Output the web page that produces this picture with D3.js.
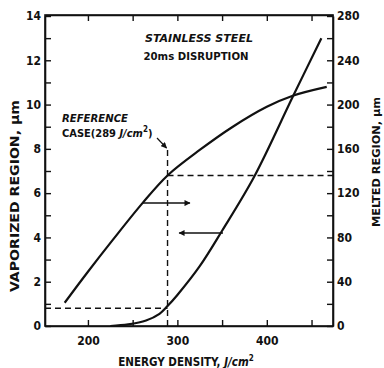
<!DOCTYPE html>
<html>
<head>
<meta charset="utf-8">
<script src="https://cdn.jsdelivr.net/npm/d3@7"></script>
<style>
  body { margin: 0; background: #fff; }
  text { font-family: "DejaVu Sans Condensed", "DejaVu Sans", sans-serif; fill: #111; }
</style>
</head>
<body>
<div class="svg-container"></div>
<script>
// vaporized region (left axis, um)
var energyVap = [174, 200, 228, 261, 289, 325, 362, 400, 429, 467];
var vaporized = [1.05, 2.45, 3.9, 5.55, 6.8, 7.95, 9.0, 9.9, 10.4, 10.8];

// melted region (right axis, um)
var energyMelt = [225, 245, 265, 280, 289, 300, 325, 350, 386, 429, 461];
var melted = [0, 1.5, 5, 11, 18, 28, 54, 86, 135, 207, 260];

var xTicks = [200, 250, 300, 350, 400, 450];
var xLabels = [200, 300, 400];
var leftTicks = d3.range(0, 15, 1);
var leftLabels = [0, 2, 4, 6, 8, 10, 12, 14];
var rightTicks = d3.range(0, 281, 20);
var rightLabels = [0, 40, 80, 120, 160, 200, 240, 280];

var refEnergy = 289, refVap = 6.8, refMelt = 16;

var width = 384, height = 368;
var svg = d3.select('.svg-container').append('svg')
  .attr('width', width)
  .attr('height', height);

var x = d3.scaleLinear().domain([152, 474]).range([45, 333]);
var y = d3.scaleLinear().domain([0, 14]).range([326, 16]);
var y2 = d3.scaleLinear().domain([0, 280]).range([326, 16]);

var ink = '#111';

// frame
svg.append('rect')
  .attr('x', x.range()[0]).attr('y', 15)
  .attr('width', x.range()[1] - x.range()[0])
  .attr('height', 326 - 15)
  .attr('fill', 'none').attr('stroke', ink).attr('stroke-width', 1.6);

// axes with inward ticks
var axBottom = svg.append('g').attr('transform', 'translate(0,326)')
  .call(d3.axisBottom(x).tickValues(xTicks).tickSizeInner(-6).tickSizeOuter(0)
    .tickFormat(function(d) { return xLabels.indexOf(d) >= 0 ? d : ''; }));
var axTop = svg.append('g').attr('transform', 'translate(0,15)')
  .call(d3.axisTop(x).tickValues(xTicks).tickSizeInner(-6).tickSizeOuter(0).tickFormat(''));
var axLeft = svg.append('g').attr('transform', 'translate(45,0)')
  .call(d3.axisLeft(y).tickValues(leftTicks).tickSizeInner(-6).tickSizeOuter(0)
    .tickFormat(function(d) { return leftLabels.indexOf(d) >= 0 ? d : ''; }));
var axRight = svg.append('g').attr('transform', 'translate(333,0)')
  .call(d3.axisRight(y2).tickValues(rightTicks).tickSizeInner(-6).tickSizeOuter(0)
    .tickFormat(function(d) { return rightLabels.indexOf(d) >= 0 ? d : ''; }));

[axBottom, axTop, axLeft, axRight].forEach(function(g) {
  g.select('.domain').attr('stroke', ink).attr('stroke-width', 1.6);
  g.selectAll('.tick line').attr('stroke', ink).attr('stroke-width', 1.4);
  g.selectAll('.tick text').attr('font-size', 12).attr('fill', ink)
    .attr('font-weight', 'bold')
    .attr('font-family', '"DejaVu Sans Condensed", sans-serif');
});
axBottom.selectAll('.tick text').attr('dy', '1.3em');
axLeft.selectAll('.tick text').attr('x', -4);
axRight.selectAll('.tick text').attr('x', 4);

// curves
var lineVap = d3.line()
  .x(function(d, i) { return x(energyVap[i]); })
  .y(function(d) { return y(d); })
  .curve(d3.curveCatmullRom);
var lineMelt = d3.line()
  .x(function(d, i) { return x(energyMelt[i]); })
  .y(function(d) { return y2(d); })
  .curve(d3.curveCatmullRom);

svg.append('path').datum(vaporized).attr('d', lineVap)
  .attr('fill', 'none').attr('stroke', ink).attr('stroke-width', 2.2);
svg.append('path').datum(melted).attr('d', lineMelt)
  .attr('fill', 'none').attr('stroke', ink).attr('stroke-width', 2.2);

// reference case dashed lines
var dash = '6,4';
svg.append('line')
  .attr('x1', x(refEnergy)).attr('x2', x(refEnergy))
  .attr('y1', y(7.95)).attr('y2', y(0))
  .attr('stroke', ink).attr('stroke-width', 1.4).attr('stroke-dasharray', dash);
svg.append('line')
  .attr('x1', x(refEnergy)).attr('x2', x.range()[1])
  .attr('y1', y(refVap)).attr('y2', y(refVap))
  .attr('stroke', ink).attr('stroke-width', 1.4).attr('stroke-dasharray', dash);
svg.append('line')
  .attr('x1', x.range()[0]).attr('x2', x(refEnergy))
  .attr('y1', y2(refMelt)).attr('y2', y2(refMelt))
  .attr('stroke', ink).attr('stroke-width', 1.4).attr('stroke-dasharray', dash);

// arrows
svg.append('defs').append('marker')
  .attr('id', 'head').attr('viewBox', '0 0 10 10')
  .attr('refX', 9).attr('refY', 5)
  .attr('markerWidth', 7).attr('markerHeight', 6)
  .attr('markerUnits', 'userSpaceOnUse')
  .attr('orient', 'auto')
  .append('path').attr('d', 'M0,0 L10,5 L0,10 Z').attr('fill', ink);

svg.append('line')
  .attr('x1', x(261)).attr('x2', x(314))
  .attr('y1', y(5.55)).attr('y2', y(5.55))
  .attr('stroke', ink).attr('stroke-width', 1.5).attr('marker-end', 'url(#head)');
svg.append('line')
  .attr('x1', x(351)).attr('x2', x(302))
  .attr('y1', y(4.2)).attr('y2', y(4.2))
  .attr('stroke', ink).attr('stroke-width', 1.5).attr('marker-end', 'url(#head)');

// leader from label to reference line
svg.append('line')
  .attr('x1', 157).attr('y1', 138)
  .attr('x2', x(refEnergy) - 1).attr('y2', y(7.95) - 2)
  .attr('stroke', ink).attr('stroke-width', 1.2).attr('marker-end', 'url(#head)');

// texts
function label(t, px, py, size, len, opts) {
  opts = opts || {};
  var el = svg.append('text').attr('x', px).attr('y', py)
    .attr('font-size', size)
    .attr('font-weight', 'bold')
    .attr('text-anchor', opts.anchor || 'start')
    .attr('font-style', opts.italic ? 'italic' : 'normal')
    .attr('textLength', len).attr('lengthAdjust', 'spacingAndGlyphs');
  if (opts.rotate) el.attr('transform', 'rotate(-90,' + px + ',' + py + ')');
  el.text(t);
  return el;
}

label('STAINLESS STEEL', 199, 42, 11, 108, {anchor: 'middle', italic: true});
label('20ms DISRUPTION', 196, 60, 11, 105, {anchor: 'middle'});
label('REFERENCE', 62, 122, 11, 66, {italic: true});
var cs = svg.append('text').attr('x', 62).attr('y', 137)
  .attr('font-size', 11).attr('font-weight', 'bold');
cs.append('tspan').text('CASE(289 ');
cs.append('tspan').attr('font-style', 'italic').text('J/cm');
cs.append('tspan').attr('font-size', 8).attr('dy', -5).text('2');
cs.append('tspan').attr('dy', 5).text(')');

label('VAPORIZED REGION, \u03bcm', 19, 196, 12, 192, {anchor: 'middle', rotate: true});
label('MELTED REGION, \u03bcm', 380, 162, 11, 130, {anchor: 'middle', rotate: true});

var xt = svg.append('text').attr('x', 186).attr('y', 366)
  .attr('font-size', 11.5).attr('font-weight', 'bold').attr('text-anchor', 'middle');
xt.append('tspan').text('ENERGY DENSITY, ');
xt.append('tspan').attr('font-style', 'italic').text('J/cm');
xt.append('tspan').attr('font-size', 8).attr('dy', -5).text('2');
</script>
</body>
</html>
